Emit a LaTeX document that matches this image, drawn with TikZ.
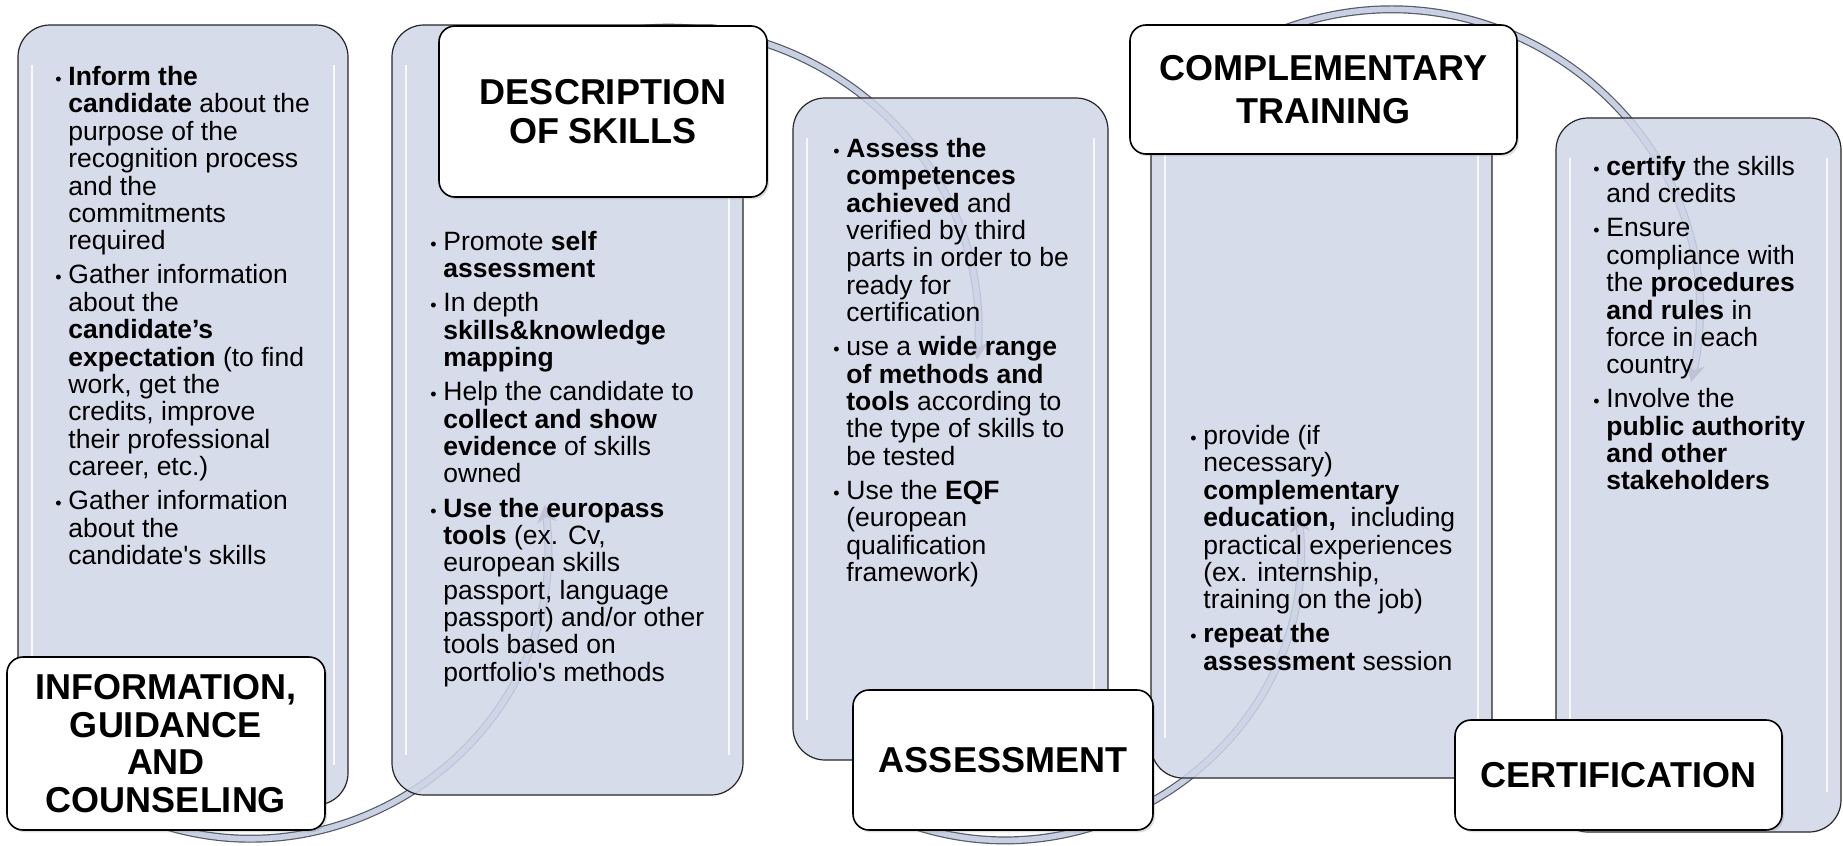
\documentclass[tikz,border=0pt]{standalone}
\usepackage{fontspec}
\setmainfont{Liberation Sans}
\usetikzlibrary{arrows.meta,shadows}

\definecolor{panelfill}{RGB}{208,214,231}
\definecolor{tubefill}{RGB}{200,208,226}
\definecolor{tubeedge}{RGB}{85,90,105}

\newcommand{\dotitem}{{\fontsize{9pt}{9pt}\selectfont\textbullet}}
\newenvironment{steps}{\begin{tabular}{@{}p{6.5pt}@{}l@{}}}{\end{tabular}}

\begin{document}
\begin{tikzpicture}[x=0.5pt,y=0.5pt,
    panel/.style={draw=black!85, line width=0.6pt, fill=panelfill, fill opacity=0.86,
        rounded corners=16pt, inner sep=0pt, outer sep=0pt},
    hilite/.style={white, line width=1.3pt, opacity=0.85},
    heading/.style={draw=black, line width=0.8pt, fill=white, rounded corners=8pt,
        inner sep=0pt, align=center, font=\fontsize{18pt}{19.5pt}\selectfont\bfseries,
        drop shadow={opacity=0.25, shadow xshift=1pt, shadow yshift=-1.2pt}},
    bullets/.style={anchor=north west, inner sep=0pt, font=\fontsize{13.25pt}{13.6pt}\selectfont},
    tube/.style={draw=tubeedge, line width=0.6pt, double=tubefill, double distance=2.8pt,
        -{Stealth[length=9pt,width=10pt]}}]
    \useasboundingbox (0,0) rectangle (1843,-846);

    \coordinate (s1) at (101.5,-798.2);
    \coordinate (e1) at (544.8,-504.8);
    \coordinate (s2) at (551.9,-50.6);
    \coordinate (e2) at (977.2,-359.6);
    \coordinate (s3) at (880.3,-812.4);
    \coordinate (e3) at (1298.4,-514.2);
    \coordinate (s4) at (1274.6,-32.4);
    \coordinate (e4) at (1691.3,-382);
    \draw[tube] (s1) to[out=-30, in=-83, looseness=1.18] (e1);
    \draw[tube] (s2) to[out=22, in=86, looseness=1.11] (e2);
    \draw[tube] (s3) to[out=-25, in=-84, looseness=1.14] (e3);
    \draw[tube] (s4) to[out=22, in=78, looseness=1.16] (e4);

    \node[panel, minimum width=165pt, minimum height=390pt] (p1) at (183,-415) {};
    \node[panel, minimum width=175.5pt, minimum height=385pt] (p2) at (567.5,-410) {};
    \node[panel, minimum width=157.5pt, minimum height=331pt] (p3) at (950.5,-429) {};
    \node[panel, minimum width=170.5pt, minimum height=339pt] (p4) at (1321.5,-439) {};
    \node[panel, minimum width=142.5pt, minimum height=357pt] (p5) at (1698.5,-475) {};
    \foreach \p in {p1,p2,p3,p4,p5}{
        \draw[hilite] ([shift={(7pt,-20pt)}]\p.north west) -- ([shift={(7pt,20pt)}]\p.south west);
        \draw[hilite] ([shift={(-7pt,-20pt)}]\p.north east) -- ([shift={(-7pt,20pt)}]\p.south east);
    }

    \node[bullets] (t1) at (55,-66) {\begin{steps}
        \dotitem & \textbf{Inform the}\\
        & \textbf{candidate} about the\\
        & purpose of the\\
        & recognition process\\
        & and the\\
        & commitments\\
        & required\\[3.4pt]
        \dotitem & Gather information\\
        & about the\\
        & \textbf{candidate’s}\\
        & \textbf{expectation} (to find\\
        & work, get the\\
        & credits, improve\\
        & their professional\\
        & career, etc.)\\[3.4pt]
        \dotitem & Gather information\\
        & about the\\
        & candidate\textquotesingle s skills
    \end{steps}};
    \node[bullets] (t2) at (430,-231) {\begin{steps}
        \dotitem & Promote \textbf{self}\\
        & \textbf{assessment}\\[3.4pt]
        \dotitem & In depth\\
        & \textbf{skills\&knowledge}\\
        & \textbf{mapping}\\[3.4pt]
        \dotitem & Help the candidate to\\
        & \textbf{collect and show}\\
        & \textbf{evidence} of skills\\
        & owned\\[3.4pt]
        \dotitem & \textbf{Use the europass}\\
        & \textbf{tools} (ex. Cv,\\
        & european skills\\
        & passport, language\\
        & passport) and/or other\\
        & tools based on\\
        & portfolio\textquotesingle s methods
    \end{steps}};
    \node[bullets] (t3) at (833,-138) {\begin{steps}
        \dotitem & \textbf{Assess the}\\
        & \textbf{competences}\\
        & \textbf{achieved} and\\
        & verified by third\\
        & parts in order to be\\
        & ready for\\
        & certification\\[3.4pt]
        \dotitem & use a \textbf{wide range}\\
        & \textbf{of methods and}\\
        & \textbf{tools} according to\\
        & the type of skills to\\
        & be tested\\[3.4pt]
        \dotitem & Use the \textbf{EQF}\\
        & (european\\
        & qualification\\
        & framework)
    \end{steps}};
    \node[bullets] (t4) at (1190,-425) {\begin{steps}
        \dotitem & provide (if\\
        & necessary)\\
        & \textbf{complementary}\\
        & \textbf{education,}~ including\\
        & practical experiences\\
        & (ex. internship,\\
        & training on the job)\\[3.4pt]
        \dotitem & \textbf{repeat the}\\
        & \textbf{assessment} session
    \end{steps}};
    \node[bullets] (t5) at (1593,-156) {\begin{steps}
        \dotitem & \textbf{certify} the skills\\
        & and credits\\[3.4pt]
        \dotitem & Ensure\\
        & compliance with\\
        & the \textbf{procedures}\\
        & \textbf{and rules} in\\
        & force in each\\
        & country\\[3.4pt]
        \dotitem & Involve the\\
        & \textbf{public authority}\\
        & \textbf{and other}\\
        & \textbf{stakeholders}
    \end{steps}};

    \node[heading, minimum width=159pt, minimum height=86.5pt,
        font=\fontsize{18pt}{18.75pt}\selectfont\bfseries] (h1) at (166,-743.5)
        {INFORMATION,\\GUIDANCE\\AND\\COUNSELING};
    \node[heading, minimum width=164pt, minimum height=85.5pt] (h2) at (603,-111.5)
        {DESCRIPTION\\OF SKILLS};
    \node[heading, minimum width=150pt, minimum height=70pt] (h3) at (1003,-760)
        {ASSESSMENT};
    \node[heading, minimum width=193.5pt, minimum height=64.5pt,
        font=\fontsize{18pt}{21.5pt}\selectfont\bfseries] (h4) at (1323.5,-89.5)
        {COMPLEMENTARY\\TRAINING};
    \node[heading, minimum width=163.5pt, minimum height=55pt] (h5) at (1618.5,-775)
        {CERTIFICATION};
\end{tikzpicture}
\end{document}
